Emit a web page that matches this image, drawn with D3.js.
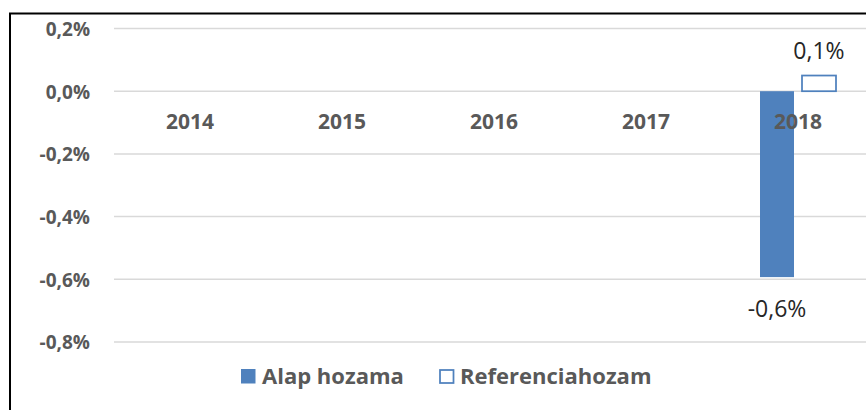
<!DOCTYPE html>
<html><head><meta charset="utf-8">
<script src="https://cdn.jsdelivr.net/npm/d3@7"></script>
<style>
html,body{margin:0;padding:0;background:#fff;}
svg{display:block;font-family:"Open Sans",sans-serif;}
</style></head>
<body><svg id="c" width="866" height="410"></svg>
<script>
const categories = ["2014","2015","2016","2017","2018"];
const seriesNames = ["Alap hozama","Referenciahozam"];
const alapValues = [null,null,null,null,-0.593];
const refValues = [null,null,null,null,0.05];
const yTicks = [0.2,0.0,-0.2,-0.4,-0.6,-0.8];

const svg = d3.select("#c");
const blue = "#4F81BD", grey = "#595959";
const fmt = v => (Math.round(v*10)/10).toFixed(1).replace(".", ",") + "%";

// border
svg.append("rect").attr("x",10).attr("y",13.5).attr("width",900).attr("height",500)
  .attr("fill","none").attr("stroke","#000").attr("stroke-width",2);

const x0 = d3.scaleBand().domain(categories).range([114, 874]).padding(0);
const bw = x0.bandwidth();
const x1 = d3.scaleBand().domain(seriesNames).range([bw/2-38, bw/2+38]).paddingInner(8/42).paddingOuter(0);
const y = d3.scaleLinear().domain([-0.8, 0.2]).range([342, 28.5]);

// gridlines
svg.append("g").selectAll("line").data(yTicks).join("line")
  .attr("x1",114).attr("x2",874)
  .attr("y1",d=>y(d)).attr("y2",d=>y(d))
  .attr("stroke","#D9D9D9").attr("stroke-width",1.5);

// y axis
const yAxis = d3.axisLeft(y).tickValues(yTicks).tickSize(0).tickPadding(0).tickFormat(fmt);
const gy = svg.append("g").attr("transform","translate(90,0)").call(yAxis);
gy.select(".domain").remove();
gy.selectAll("text").attr("font-size",19).attr("font-weight","bold").attr("fill",grey)
  .attr("font-family","'Open Sans',sans-serif").attr("dy","0.36em");

// bars
const data = categories.map((c,i)=>({cat:c, vals:[{s:seriesNames[0],v:alapValues[i]},{s:seriesNames[1],v:refValues[i]}]}));
const groups = svg.append("g").selectAll("g").data(data).join("g")
  .attr("transform",d=>`translate(${x0(d.cat)},0)`);
groups.selectAll("rect").data(d=>d.vals.filter(e=>e.v!==null)).join("rect")
  .attr("x",d=>x1(d.s)).attr("width",x1.bandwidth())
  .attr("y",d=>y(Math.max(0,d.v))).attr("height",d=>Math.abs(y(d.v)-y(0)))
  .attr("fill",d=>d.s===seriesNames[0]?blue:"#fff")
  .attr("stroke",d=>d.s===seriesNames[0]?"none":blue)
  .attr("stroke-width",1.75);

// category labels (axis at zero)
const xAxis = d3.axisBottom(x0).tickSize(0).tickPadding(0);
const gx = svg.append("g").attr("transform",`translate(0,${y(0)})`).call(xAxis);
gx.select(".domain").remove();
gx.selectAll("text").attr("font-size",21).attr("font-weight","bold").attr("fill",grey)
  .attr("font-family","'Open Sans',sans-serif").attr("dy","1.8em");

// data labels
groups.selectAll("text.lbl").data(d=>d.vals.filter(e=>e.v!==null)).join("text")
  .attr("class","lbl")
  .attr("x",d=>x1(d.s)+x1.bandwidth()/2)
  .attr("y",d=>d.v>=0 ? y(d.v)-17 : y(d.v)+40)
  .attr("text-anchor","middle").attr("font-size",23).attr("fill","#262626")
  .text(d=>fmt(d.v));

// legend
const leg = svg.append("g");
const legItems = [{s:seriesNames[0],x:241},{s:seriesNames[1],x:439}];
legItems.forEach((it,i)=>{
  leg.append("rect").attr("x",i===0?it.x:it.x+1).attr("y",i===0?369:370)
    .attr("width",i===0?14.5:13.5).attr("height",i===0?14.5:13)
    .attr("fill",i===0?blue:"#fff").attr("stroke",i===0?"none":blue).attr("stroke-width",1.75);
  leg.append("text").attr("x",it.x+21).attr("y",384).attr("font-size",22).attr("font-weight","bold")
    .attr("fill",grey).text(it.s);
});
</script></body></html>
